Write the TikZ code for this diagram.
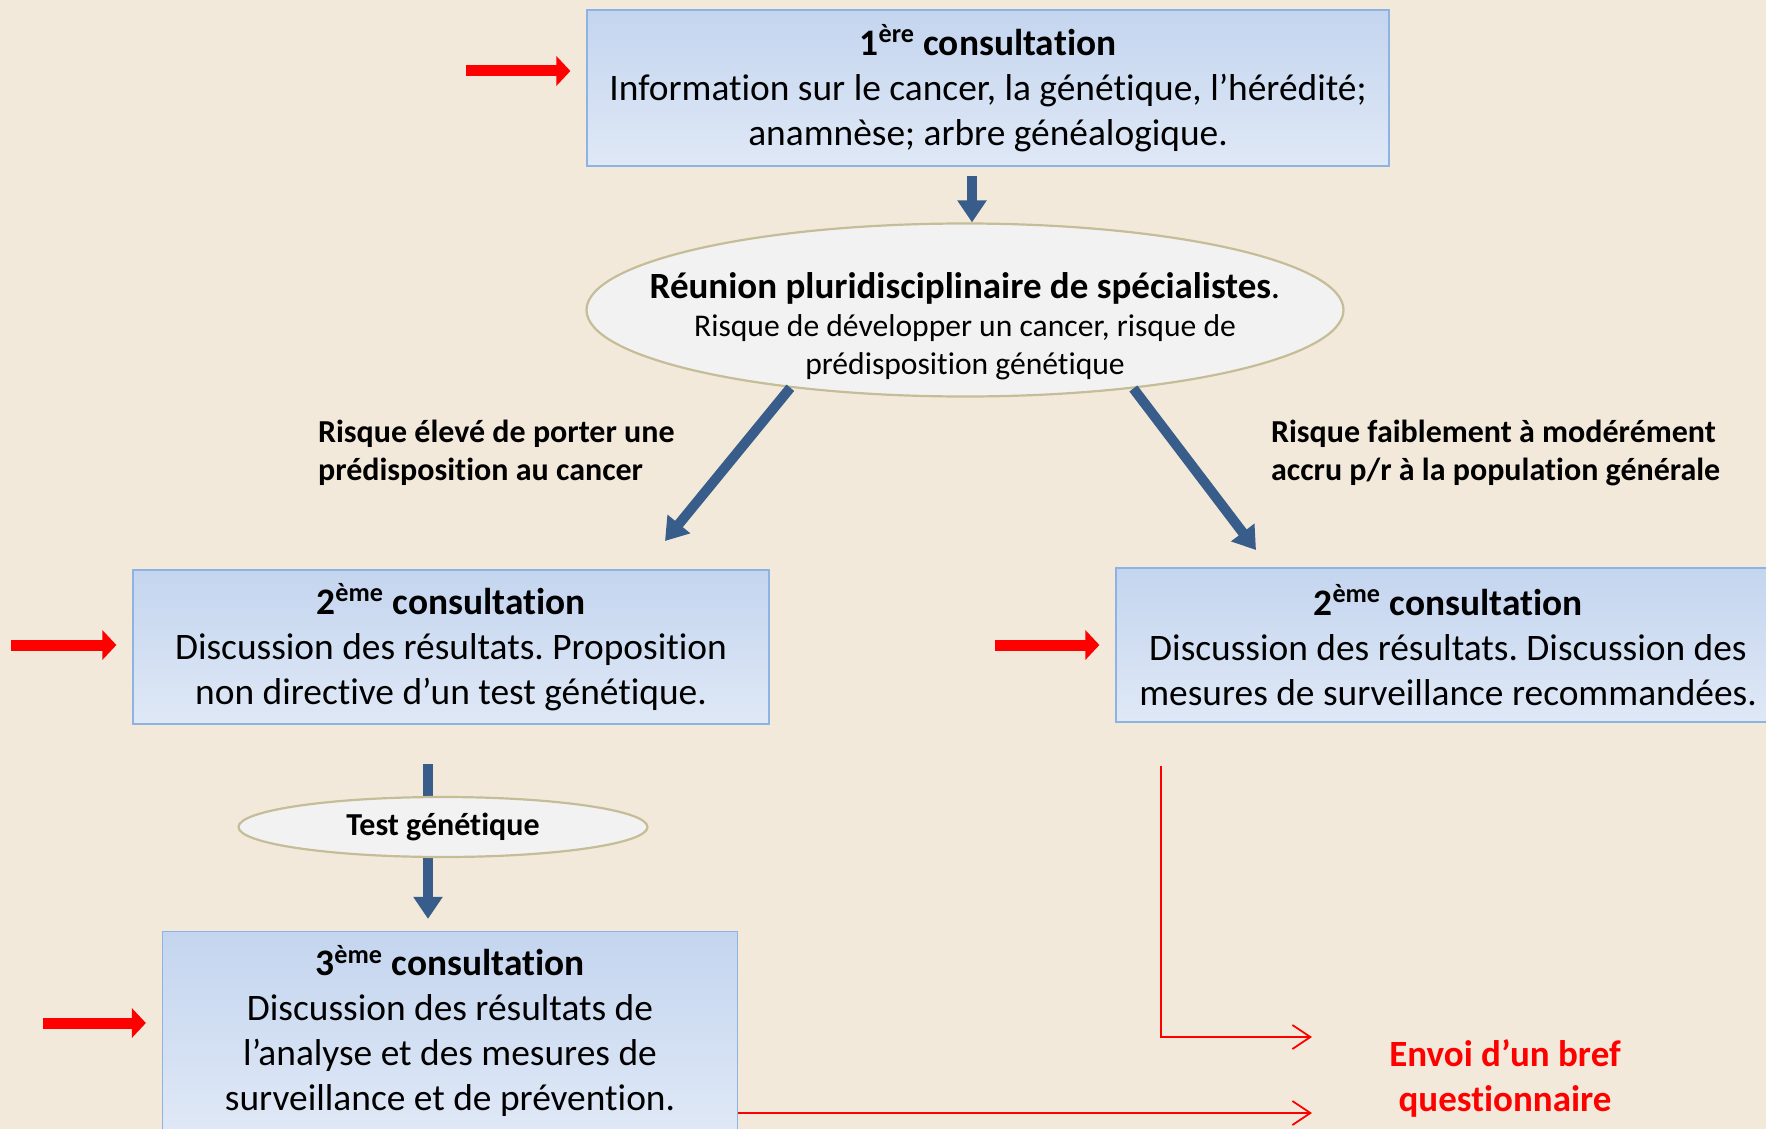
\documentclass[tikz,border=0pt]{standalone}
\usepackage{fontspec}
\setmainfont{Carlito}[Ligatures=NoCommon]
\usetikzlibrary{shapes.geometric,arrows.meta,shadings}
\frenchspacing

\definecolor{bgcream}{RGB}{243,233,218}
\definecolor{boxtop}{RGB}{196,213,239}
\definecolor{boxbottom}{RGB}{223,232,246}
\definecolor{boxline}{RGB}{141,179,226}
\definecolor{ovalfill}{RGB}{242,242,242}
\definecolor{ovalline}{RGB}{196,189,151}
\definecolor{flowblue}{RGB}{56,93,138}

\begin{document}
\begin{tikzpicture}[x=0.5pt,y=-0.5pt,
    consult/.style={rectangle, draw=boxline, line width=0.6pt,
      top color=boxtop, bottom color=boxbottom, align=center, inner sep=0pt,
      font=\fontsize{18.7}{22.5}\selectfont},
    meeting/.style={ellipse, draw=ovalline, fill=ovalfill, line width=1.1pt, inner sep=0pt},
    bluearrow/.style={draw=flowblue, line width=5pt, -{Triangle[width=14pt,length=11pt]}},
    redarrow/.style={draw=red, line width=5.5pt, -{Triangle[width=14.5pt,length=7pt]}},
    redline/.style={draw=red, line width=0.9pt, -{Straight Barb[length=9pt,width=12pt]}},
    risklabel/.style={anchor=west, align=left, font=\fontsize{16}{19}\selectfont\bfseries}]

    \useasboundingbox[fill=bgcream] (0,0) rectangle (1766,1129);

    % consultations
    \node[consult, minimum width=401pt, minimum height=78pt] (first) at (988,88)
      {\textbf{1\textsuperscript{ère} consultation}\\
       Information sur le cancer, la génétique, l’hérédité;\\
       anamnèse; arbre généalogique.};
    \node[consult, minimum width=318pt, minimum height=77pt] (secondhigh) at (451,647)
      {\textbf{2\textsuperscript{ème} consultation}\\
       Discussion des résultats. Proposition\\
       non directive d’un test génétique.};
    \node[consult, minimum width=332pt, minimum height=77pt] (secondlow) at (1448,645)
      {\textbf{2\textsuperscript{ème} consultation}\\
       Discussion des résultats. Discussion des\\
       mesures de surveillance recommandées.};
    \node[consult, minimum width=287.5pt, minimum height=99.5pt] (third) at (450,1031)
      {\textbf{3\textsuperscript{ème} consultation}\\
       Discussion des résultats de\\
       l’analyse et des mesures de\\
       surveillance et de prévention.};

    % reunion
    \node[meeting, minimum width=378.5pt, minimum height=86.5pt] (reunion) at (965,310) {};
    \node[align=center, font=\fontsize{15.8}{19}\selectfont] (reuniontext) at (965,326)
      {{\fontsize{18.5}{22}\selectfont\textbf{Réunion pluridisciplinaire de spécialistes}.}\\
       Risque de développer un cancer, risque de\\
       prédisposition génétique};

    \node[risklabel] (highrisk) at (311,453) {Risque élevé de porter une\\prédisposition au cancer};
    \node[risklabel] (lowrisk) at (1264,453) {Risque faiblement à modérément\\accru p/r à la population générale};

    % blue arrows
    \coordinate (highend) at (665,541);
    \coordinate (lowend) at (1256,550);
    \coordinate (testtop) at (428,764);
    \draw[bluearrow, shorten <=4.5pt] ([xshift=3.5pt]first.south -| reunion.north) -- ([xshift=3.5pt]reunion.north);
    \draw[bluearrow] (reunion.204) -- (highend);
    \draw[bluearrow] (reunion.335) -- (lowend);
    \draw[bluearrow, shorten >=6pt] (testtop) -- (testtop |- third.north);

    \node[meeting, minimum width=204.5pt, minimum height=30pt,
      font=\fontsize{16}{19}\selectfont\bfseries] (test) at (443,827) {Test génétique};

    % red arrows
    \coordinate (in1) at (466,71);
    \coordinate (in2) at (11,645);
    \coordinate (in3) at (995,645);
    \coordinate (in4) at (43,1023);
    \draw[redarrow, shorten >=8pt] (in1) -- (in1 -| first.west);
    \draw[redarrow, shorten >=8pt] (in2) -- (in2 -| secondhigh.west);
    \draw[redarrow, shorten >=8pt] (in3) -- (in3 -| secondlow.west);
    \draw[redarrow, shorten >=8pt] (in4) -- (in4 -| third.west);

    % questionnaire
    \node[align=center, text=red, font=\fontsize{18.5}{22.5}\selectfont\bfseries] (quest) at (1505,1078)
      {Envoi d’un bref\\questionnaire};
    \coordinate (fbstart) at (1161,766);
    \coordinate (fbone) at (1312,1037);
    \coordinate (fbtwo) at (1312,1113);
    \draw[redline] (fbstart) |- (fbone);
    \draw[redline] (fbtwo -| third.east) -- (fbtwo);

\end{tikzpicture}
\end{document}
